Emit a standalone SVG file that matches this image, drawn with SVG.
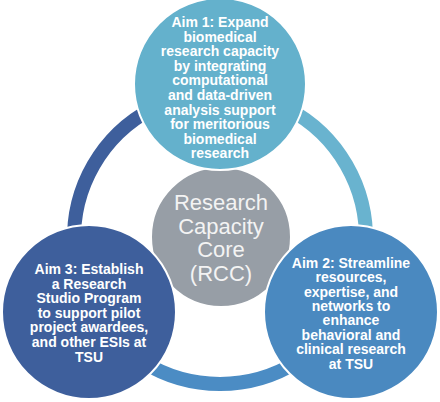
<svg xmlns="http://www.w3.org/2000/svg" width="440" height="402" viewBox="0 0 440 402">
<style>
.ring{fill:none;stroke-width:14}
.node{stroke:#ffffff;stroke-width:2}
.aim{font-family:"Liberation Sans",Arial,sans-serif;font-weight:bold;font-size:14px;fill:#ffffff;text-anchor:middle}
.core{font-family:"Liberation Sans",Arial,sans-serif;font-size:22px;fill:#f3f3f3;text-anchor:middle}
</style>
<rect width="440" height="402" fill="#ffffff"/>
<g id="connectors">
<path class="ring" stroke="#3e5f9c" d="M 93.6 311 A 146 146 0 0 1 220 92"/>
<path class="ring" stroke="#69b3cf" d="M 220 92 A 146 146 0 0 1 346.4 311"/>
<path class="ring" stroke="#4b8cc4" d="M 346.4 311 A 146 146 0 0 1 93.6 311"/>
</g>
<g id="core">
<circle class="node" cx="221" cy="237" r="70" fill="#979ea6"/>
<text class="core" x="221" y="210">Research</text>
<text class="core" x="221" y="233.5">Capacity</text>
<text class="core" x="221" y="257">Core</text>
<text class="core" x="221" y="280.5">(RCC)</text>
</g>
<g id="aim1">
<circle class="node" cx="220" cy="84" r="86" fill="#64b1cc"/>
<text class="aim" x="220" y="27">Aim 1: Expand</text>
<text class="aim" x="220" y="41.6">biomedical</text>
<text class="aim" x="220" y="56.2">research capacity</text>
<text class="aim" x="220" y="70.8">by integrating</text>
<text class="aim" x="220" y="85.4">computational</text>
<text class="aim" x="220" y="100">and data-driven</text>
<text class="aim" x="220" y="114.6">analysis support</text>
<text class="aim" x="220" y="129.2">for meritorious</text>
<text class="aim" x="220" y="143.8">biomedical</text>
<text class="aim" x="220" y="158.4">research</text>
</g>
<g id="aim3">
<circle class="node" cx="89" cy="312" r="87" fill="#3e5f9c"/>
<text class="aim" x="89" y="274">Aim 3: Establish</text>
<text class="aim" x="89" y="288.6">a Research</text>
<text class="aim" x="89" y="303.2">Studio Program</text>
<text class="aim" x="89" y="317.8">to support pilot</text>
<text class="aim" x="89" y="332.4">project awardees,</text>
<text class="aim" x="89" y="347">and other ESIs at</text>
<text class="aim" x="89" y="361.6">TSU</text>
</g>
<g id="aim2">
<circle class="node" cx="351" cy="312" r="87" fill="#4a89c0"/>
<text class="aim" x="351" y="267.7">Aim 2: Streamline</text>
<text class="aim" x="351" y="282.2">resources,</text>
<text class="aim" x="351" y="296.6">expertise, and</text>
<text class="aim" x="351" y="311">networks to</text>
<text class="aim" x="351" y="325.4">enhance</text>
<text class="aim" x="351" y="339.8">behavioral and</text>
<text class="aim" x="351" y="354.2">clinical research</text>
<text class="aim" x="351" y="368.6">at TSU</text>
</g>
</svg>
